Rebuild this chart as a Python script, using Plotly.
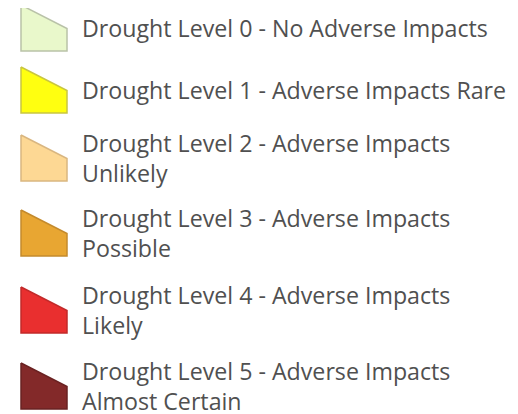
import plotly.graph_objects as go

# Legend content
levels = [0, 1, 2, 3, 4, 5]
labels = [
    "Drought Level 0 - No Adverse Impacts",
    "Drought Level 1 - Adverse Impacts Rare",
    "Drought Level 2 - Adverse Impacts<br>Unlikely",
    "Drought Level 3 - Adverse Impacts<br>Possible",
    "Drought Level 4 - Adverse Impacts<br>Likely",
    "Drought Level 5 - Adverse Impacts<br>Almost Certain",
]
fill_colors = ["#e9f8cb", "#ffff10", "#fdd894", "#e8a632", "#e92f2f", "#832929"]
line_colors = ["#b9c2a8", "#c9c640", "#d9b680", "#c48a2c", "#c22a2a", "#6a2222"]

# Layout helpers (page pixel space, y down); page body has an 8px margin
M = 8
FW, FH = 510, 406
row_tops = [5, 67, 135, 210, 287, 363]
swatch_x = [21, 67, 67, 21, 21]
swatch_y = [0, 23.5, 46, 46, 0]
text_x = 80
font_family = "'Open Sans', sans-serif"

fig = go.Figure()
for lvl, top, fc, lc, lab in zip(levels, row_tops, fill_colors, line_colors, labels):
    fig.add_trace(go.Scatter(
        x=swatch_x, y=[top + v for v in swatch_y],
        fill="toself", fillcolor=fc, mode="lines",
        line=dict(color=lc, width=1.5), hoverinfo="skip", showlegend=False,
        name=f"Level {lvl}", cliponaxis=False,
    ))
    fig.add_annotation(
        x=text_x, y=top + 23, text=lab, showarrow=False,
        xanchor="left", yanchor="middle", align="left",
        font=dict(family=font_family, size=23.2, color="#505050"),
        xref="x", yref="y",
    )

fig.update_layout(
    width=FW, height=FH, margin=dict(l=0, r=0, t=0, b=0),
    paper_bgcolor="white", plot_bgcolor="white",
    xaxis=dict(range=[M, M + FW], visible=False, fixedrange=True),
    yaxis=dict(range=[M + FH, M], visible=False, fixedrange=True),
    showlegend=False,
)
fig.write_html("out.html")
